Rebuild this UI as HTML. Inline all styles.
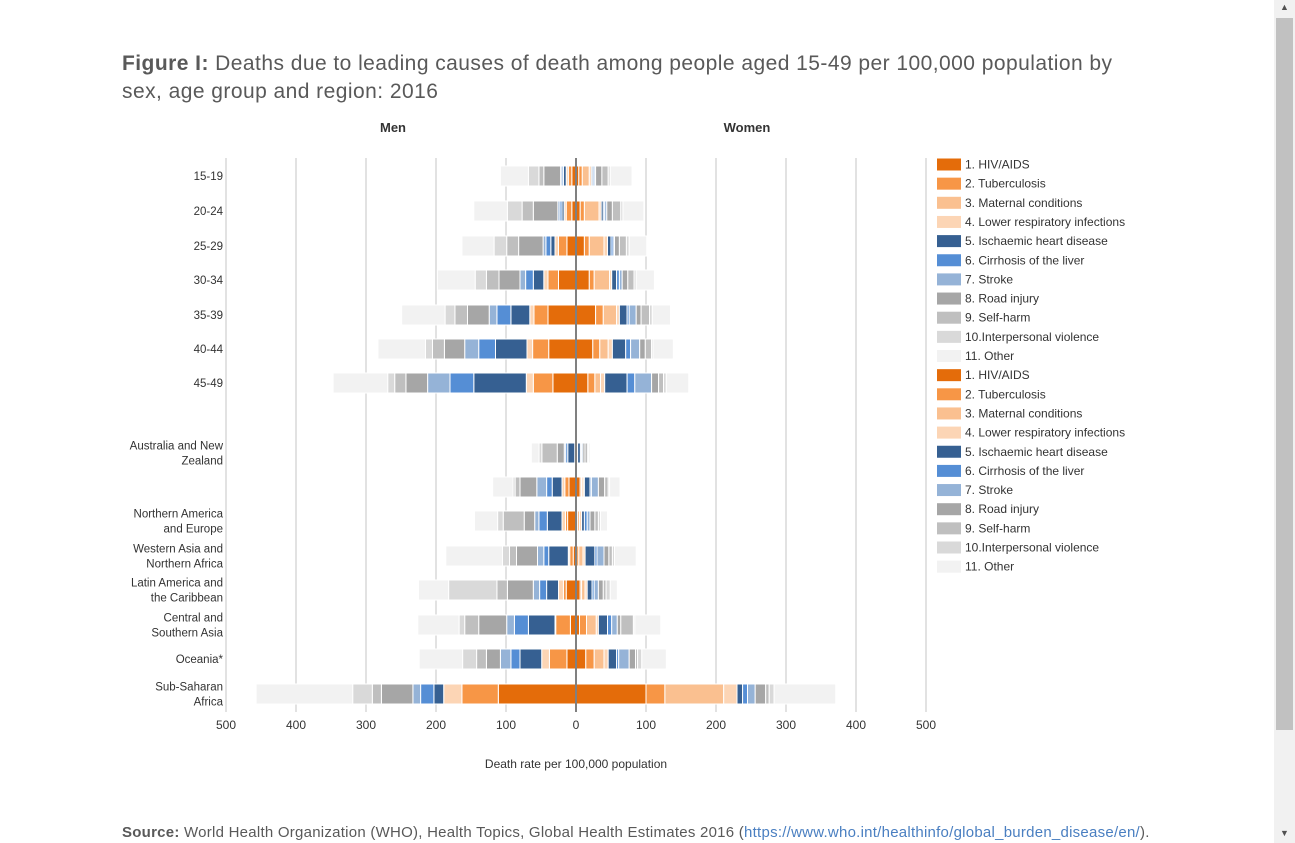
<!DOCTYPE html>
<html><head><meta charset="utf-8"><style>
body{margin:0;width:1295px;height:843px;overflow:hidden;background:#fff;font-family:"Liberation Sans",sans-serif;position:relative}
.t{position:absolute;white-space:nowrap}
</style></head><body>
<div class="t" style="left:122px;top:50px;font-size:21px;color:#595959;line-height:28px;width:1010px;letter-spacing:0.45px;white-space:normal"><b>Figure I:</b> Deaths due to leading causes of death among people aged 15-49 per 100,000 population by sex, age group and region: 2016</div>
<div class="t" style="left:122px;top:824px;font-size:15px;color:#595959;letter-spacing:0.25px"><b>Source:</b> World Health Organization (WHO), Health Topics, Global Health Estimates 2016 (<span style="color:#4a7fc1">https://www.who.int/healthinfo/global_burden_disease/en/</span>).</div>
<div style="position:absolute;left:1274px;top:0;width:21px;height:843px;background:#f1f1f1"><div style="position:absolute;left:2px;top:18px;width:17px;height:712px;background:#c1c1c1"></div><div class="t" style="left:6px;top:2px;font-size:9px;color:#505050">▲</div><div class="t" style="left:6px;top:828px;font-size:9px;color:#505050">▼</div></div>
<svg id="chart" width="1295" height="843" style="position:absolute;left:0;top:0"></svg>
<script>
const causes=["1. HIV/AIDS","2. Tuberculosis","3. Maternal conditions","4. Lower respiratory infections","5. Ischaemic heart disease","6. Cirrhosis of the liver","7. Stroke","8. Road injury","9. Self-harm","10.Interpersonal violence","11. Other"];
const colors=["#e46c0a","#f79646","#fac090","#fcd5b5","#366092","#558ed5","#95b3d7","#a6a6a6","#bfbfbf","#d9d9d9","#f2f2f2"];
const categories=["15-19","20-24","25-29","30-34","35-39","40-44","45-49","Australia and New|Zealand","","Northern America|and Europe","Western Asia and|Northern Africa","Latin America and|the Caribbean","Central and|Southern Asia","Oceania*","Sub-Saharan|Africa"];
const men=[
[6,5,0,3,4,2,2,24,7,15,40],
[6,8,0,3,3,3,3,35,16,21,48],
[13,12,0,5,6,7,4,35,17,18,46],
[25,15,0,6,15,11,8,30,18,16,54],
[40,20,0,6,27,20,11,31,18,14,62],
[39,23,0,8,45,24,20,29,17,10,68],
[33,28,0,10,75,34,32,31,16,10,78],
[0.5,0.3,0,1,10,3,2,10,22,4,11],
[10,6,0,4,14,8,14,24,7,3,29],
[12,3,0,5,21,12,6,15,30,8,33],
[4,5,0,2,28,7,9,30,10,10,81],
[14,4,0,7,17,10,9,37,15,69,43],
[8,21,0,1,38,20,11,40,20,8,59],
[13,25,0,11,31,13,15,20,14,20,62],
[111,52,0,26,14,19,11,45,13,28,138]];
const women=[
[4,5,10,3,2,2,2,9,9,3,31],
[6,6,21,3,3,2,3,8,12,3,30],
[12,7,21,5,5,3,2,7,10,4,25],
[19,7,22,3,7,4,4,8,9,3,26],
[28,11,19,4,11,3,10,7,12,4,26],
[24,10,12,6,19,7,13,8,9,2,29],
[17,10,8,6,32,11,24,10,7,4,32],
[0.5,0.3,0.5,1,4,1.5,2,3,4,1,2.5],
[6,2,2,2,8,2,10,9,5,2,15],
[1,1,3,3,4,4,4,7,5,3,10],
[1,3,6,3,14,3,10,7,5,3,31],
[6,2,5,3,7,3,6,7,4,6,10],
[5,10,14,3,13,6,8,5,18,2,37],
[14,12,14,6,12,3,15,9,3,6,35],
[100,27,84,19,8,7,11,15,5,7,88]];
const ticks=[500,400,300,200,100,0,100,200,300,400,500];
const rowY=[176,211,246,280,315,349,383,453,487,521,556,590,625,659,694];
const NS="http://www.w3.org/2000/svg";
const svg=document.getElementById('chart');
const cx=576,k=0.7;
function xs(v){return v*k;}
function mk(t,a){const e=document.createElementNS(NS,t);for(const n in a)e.setAttribute(n,a[n]);svg.appendChild(e);return e;}
ticks.forEach((t,i)=>{const x=cx+(i-5)*100*k;
 const g=mk('line',{x1:x,x2:x,y1:158,y2:712,stroke:'#d9d9d9','stroke-width':1.5});
 
 
 const tx=mk('text',{x:x,y:729,'text-anchor':'middle','font-size':12,fill:'#333'});tx.textContent=t;
 
 
});
rowY.forEach((y,r)=>{
 let x=cx;
 men[r].forEach((v,c)=>{if(v<=0)return;const w=xs(v);x-=w;
  const b=mk('rect',{x:x,y:y-10,width:w,height:20,fill:colors[c],stroke:'#fff','stroke-width':1});
  
  });
 x=cx;
 women[r].forEach((v,c)=>{if(v<=0)return;const w=xs(v);
  const b=mk('rect',{x:x,y:y-10,width:w,height:20,fill:colors[c],stroke:'#fff','stroke-width':1});
  
  x+=w;});
 const parts=categories[r].split('|');
 parts.forEach((p,j)=>{const t=mk('text',{x:223,y:y+4+(j-(parts.length-1)/2)*15,'text-anchor':'end','font-size':11.5,fill:'#333'});t.textContent=p;
  
  });
});
const c0=mk('line',{x1:cx,x2:cx,y1:158,y2:712,stroke:'#808080','stroke-width':2});


[["Men",393],["Women",747]].forEach(([s,x])=>{const t=mk('text',{x:x,y:132,'text-anchor':'middle','font-size':13,'font-weight':'bold',fill:'#333'});t.textContent=s;
 
 });
const xt=mk('text',{x:576,y:768,'text-anchor':'middle','font-size':12,fill:'#333'});xt.textContent="Death rate per 100,000 population";


for(let rep=0;rep<2;rep++)causes.forEach((c,i)=>{const y=164.5+(rep*11+i)*19.15;
 const r=mk('rect',{x:937,y:y-6,width:24,height:12,fill:colors[i]});
 
 
 const t=mk('text',{x:965,y:y+4,'font-size':12,fill:'#333'});t.textContent=c;
 
 });
</script>
</body></html>
